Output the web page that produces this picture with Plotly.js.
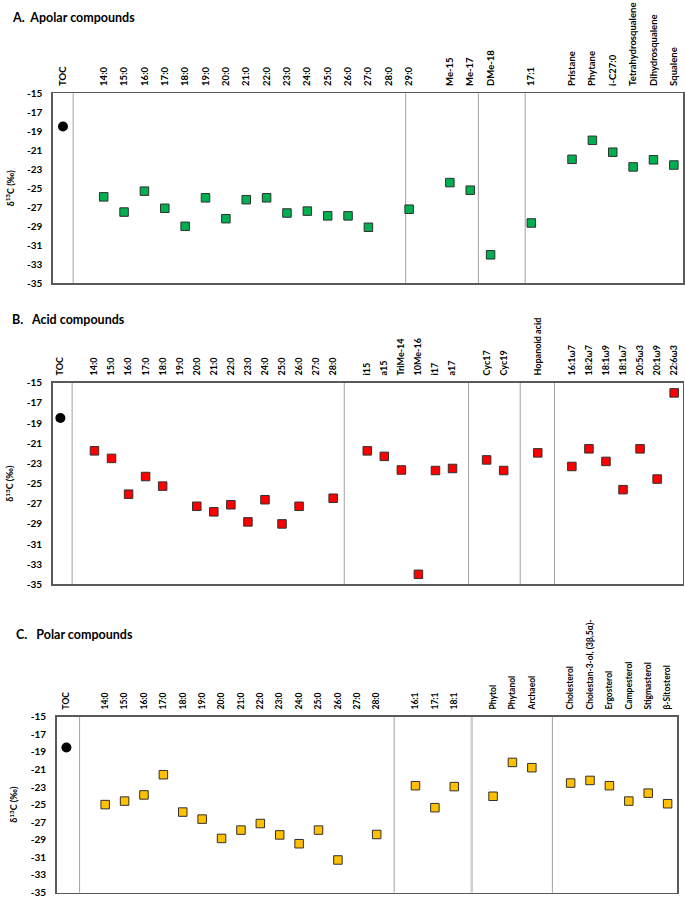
<!DOCTYPE html>
<html>
<head>
<meta charset="utf-8">
<script src="https://cdn.plot.ly/plotly-3.0.1.min.js"></script>
<style>html,body{margin:0;padding:0;background:#fff;}#chart{width:685px;height:897px;}</style>
</head>
<body>
<div id="chart"></div>
<script>
// ---------- DATA ----------
const tocValue = -18.5;

// Panel A – apolar compounds (null = empty slot on the axis)
const apolarAxis = ['TOC', null, '14:0','15:0','16:0','17:0','18:0','19:0','20:0','21:0','22:0','23:0','24:0','25:0','26:0','27:0','28:0','29:0', null, 'Me-15','Me-17','DMe-18', null, '17:1', null, 'Pristane','Phytane','i-C27:0','Tetrahydrosqualene','Dihydrosqualene','Squalene'];
const apolarCompounds = ['14:0','15:0','16:0','17:0','18:0','19:0','20:0','21:0','22:0','23:0','24:0','25:0','26:0','27:0','28:0','29:0','Me-15','Me-17','DMe-18','17:1','Pristane','Phytane','i-C27:0','Tetrahydrosqualene','Dihydrosqualene','Squalene'];
const apolarValues = [-25.9,-27.5,-25.3,-27.1,-29.0,-26.0,-28.2,-26.2,-26.0,-27.6,-27.4,-27.9,-27.9,-29.1,null,-27.2,-24.4,-25.2,-32.0,-28.65,-21.95,-19.95,-21.2,-22.75,-22.0,-22.55];
const apolarSeparators = [0.5, 16.83, 20.4, 22.7];

// Panel B – acid compounds
const acidAxis = ['TOC', null, '14:0','15:0','16:0','17:0','18:0','19:0','20:0','21:0','22:0','23:0','24:0','25:0','26:0','27:0','28:0', null, 'i15','a15','TriMe-14','10Me-16','i17','a17', null, 'Cyc17','Cyc19', null, 'Hopanoid acid', null, '16:1ω7','18:2ω7','18:1ω9','18:1ω7','20:5ω3','20:1ω9','22:6ω3'];
const acidCompounds = ['14:0','15:0','16:0','17:0','18:0','19:0','20:0','21:0','22:0','23:0','24:0','25:0','26:0','27:0','28:0','i15','a15','TriMe-14','10Me-16','i17','a17','Cyc17','Cyc19','Hopanoid acid','16:1ω7','18:2ω7','18:1ω9','18:1ω7','20:5ω3','20:1ω9','22:6ω3'];
const acidValues = [-21.75,-22.5,-26.05,-24.3,-25.25,null,-27.25,-27.8,-27.1,-28.8,-26.6,-29.0,-27.25,null,-26.45,-21.75,-22.3,-23.65,-34.0,-23.7,-23.5,-22.65,-23.7,-21.95,-23.3,-21.55,-22.8,-25.6,-21.55,-24.55,-16.0];
const acidSeparators = [0.69, 16.65, 23.94, 26.97, 28.98];

// Panel C – polar compounds
const polarAxis = ['TOC', null, '14:0','15:0','16:0','17:0','18:0','19:0','20:0','21:0','22:0','23:0','24:0','25:0','26:0','27:0','28:0', null, '16:1','17:1','18:1', null, 'Phytol','Phytanol','Archaeol', null, 'Cholesterol','Cholestan-3-ol, (3β,5α)-','Ergosterol','Campesterol','Stigmasterol','β-Sitosterol'];
const polarCompounds = ['14:0','15:0','16:0','17:0','18:0','19:0','20:0','21:0','22:0','23:0','24:0','25:0','26:0','27:0','28:0','16:1','17:1','18:1','Phytol','Phytanol','Archaeol','Cholesterol','Cholestan-3-ol, (3β,5α)-','Ergosterol','Campesterol','Stigmasterol','β-Sitosterol'];
const polarValues = [-25.0,-24.6,-23.9,-21.6,-25.85,-26.65,-28.85,-27.9,-27.15,-28.45,-29.45,-27.9,-31.3,null,-28.4,-22.85,-25.35,-22.95,-24.05,-20.2,-20.8,-22.55,-22.25,-22.85,-24.6,-23.7,-24.9];
const polarSeparators = [0.68, 16.9, 20.9, 25.06];

const yTicks = [-15,-17,-19,-21,-23,-25,-27,-29,-31,-33,-35];

// ---------- BUILD ----------
function cats(axisList){ let k=0; return axisList.map(c => c===null ? ' '.repeat(++k) : c); }

const W = 685, H = 897;
const panels = [
  {axis: apolarAxis, comp: apolarCompounds, vals: apolarValues, seps: apolarSeparators, color:'#00B050',
   x:[52.8,683], y:[93.3,283.3], range:[-0.5,30.45], tickSize:9.5, title:'A.  Apolar compounds', tx:10, ty:18},
  {axis: acidAxis, comp: acidCompounds, vals: acidValues, seps: acidSeparators, color:'#FF0000',
   x:[52.7,682.7], y:[382.8,584.4], range:[-0.45,36.5], tickSize:9, title:'B.   Acid compounds', tx:10, ty:319},
  {axis: polarAxis, comp: polarCompounds, vals: polarValues, seps: polarSeparators, color:'#FFC000',
   x:[56.7,677.3], y:[716.7,892.5], range:[-0.5,31.5], tickSize:8.5, title:'C.   Polar compounds', tx:14, ty:634},
];

const FONT = 'Lato, "Open Sans", sans-serif';
const data = [], shapes = [], annotations = [];
const layout = {
  width: W, height: H, margin:{l:0,r:0,t:0,b:0}, showlegend:false,
  paper_bgcolor:'#fff', plot_bgcolor:'#fff', font:{family:FONT, color:'#000'},
};

panels.forEach((p, i) => {
  const n = i===0 ? '' : String(i+1);
  const xa = 'xaxis'+n, ya = 'yaxis'+n, xr = 'x'+n, yr = 'y'+n;
  const labels = p.axis.filter(c => c !== null);
  layout[xa] = {
    domain:[p.x[0]/W, p.x[1]/W], anchor: yr, side:'top', type:'category',
    categoryorder:'array', categoryarray: cats(p.axis), range: p.range,
    tickmode:'array', tickvals: labels, ticktext: labels,
    tickangle:-90, showline:true, mirror:true, linecolor:'#595959', linewidth:1.5,
    showgrid:false, zeroline:false, ticks:'outside', ticklen:4, tickcolor:'rgba(0,0,0,0)',
    ticklabeloverflow:'allow',
    tickfont:{family:FONT, size:p.tickSize, weight:'bold', color:'#000'}, fixedrange:true
  };
  layout[ya] = {
    domain:[1-p.y[1]/H, 1-p.y[0]/H], anchor: xr, range:[-35,-15],
    tickvals: yTicks, ticktext: yTicks.map(String),
    showline:true, mirror:true, linecolor:'#595959', linewidth:1.5,
    showgrid:false, zeroline:false, ticks:'outside', ticklen:7, tickcolor:'rgba(0,0,0,0)',
    ticklabeloverflow:'allow',
    tickfont:{family:FONT, size:10, weight:'bold', color:'#000'},
    title:{text:'δ<sup>13</sup>C (‰)', font:{family:FONT, size:9, weight:'bold'}, standoff:11}, fixedrange:true
  };
  data.push({
    type:'scatter', mode:'markers', x:['TOC'], y:[tocValue], xaxis:xr, yaxis:yr,
    marker:{symbol:'circle', size:10, color:'#000'}, cliponaxis:false
  });
  data.push({
    type:'scatter', mode:'markers', x:p.comp, y:p.vals, xaxis:xr, yaxis:yr,
    marker:{symbol:'square', size:8.5, color:p.color, line:{color:'#303030', width:1}}, cliponaxis:false
  });
  p.seps.forEach((s, j) => {
    const thick = (i===2 && j===2);
    shapes.push({type:'line', xref:xr, yref:yr+' domain', x0:s, x1:s, y0:0, y1:1,
      line:{color: thick ? '#d0d0d0' : '#a0a0a0', width: thick ? 2.5 : 1}, layer:'below'});
  });
  annotations.push({xref:'paper', yref:'paper', x:p.tx/W, y:1-p.ty/H, xanchor:'left', yanchor:'middle',
    text:p.title, showarrow:false, font:{family:FONT, size:12.5, weight:'bold', color:'#000'}});
});
layout.shapes = shapes;
layout.annotations = annotations;

Plotly.newPlot('chart', data, layout, {staticPlot:true, displayModeBar:false});
</script>
</body>
</html>
